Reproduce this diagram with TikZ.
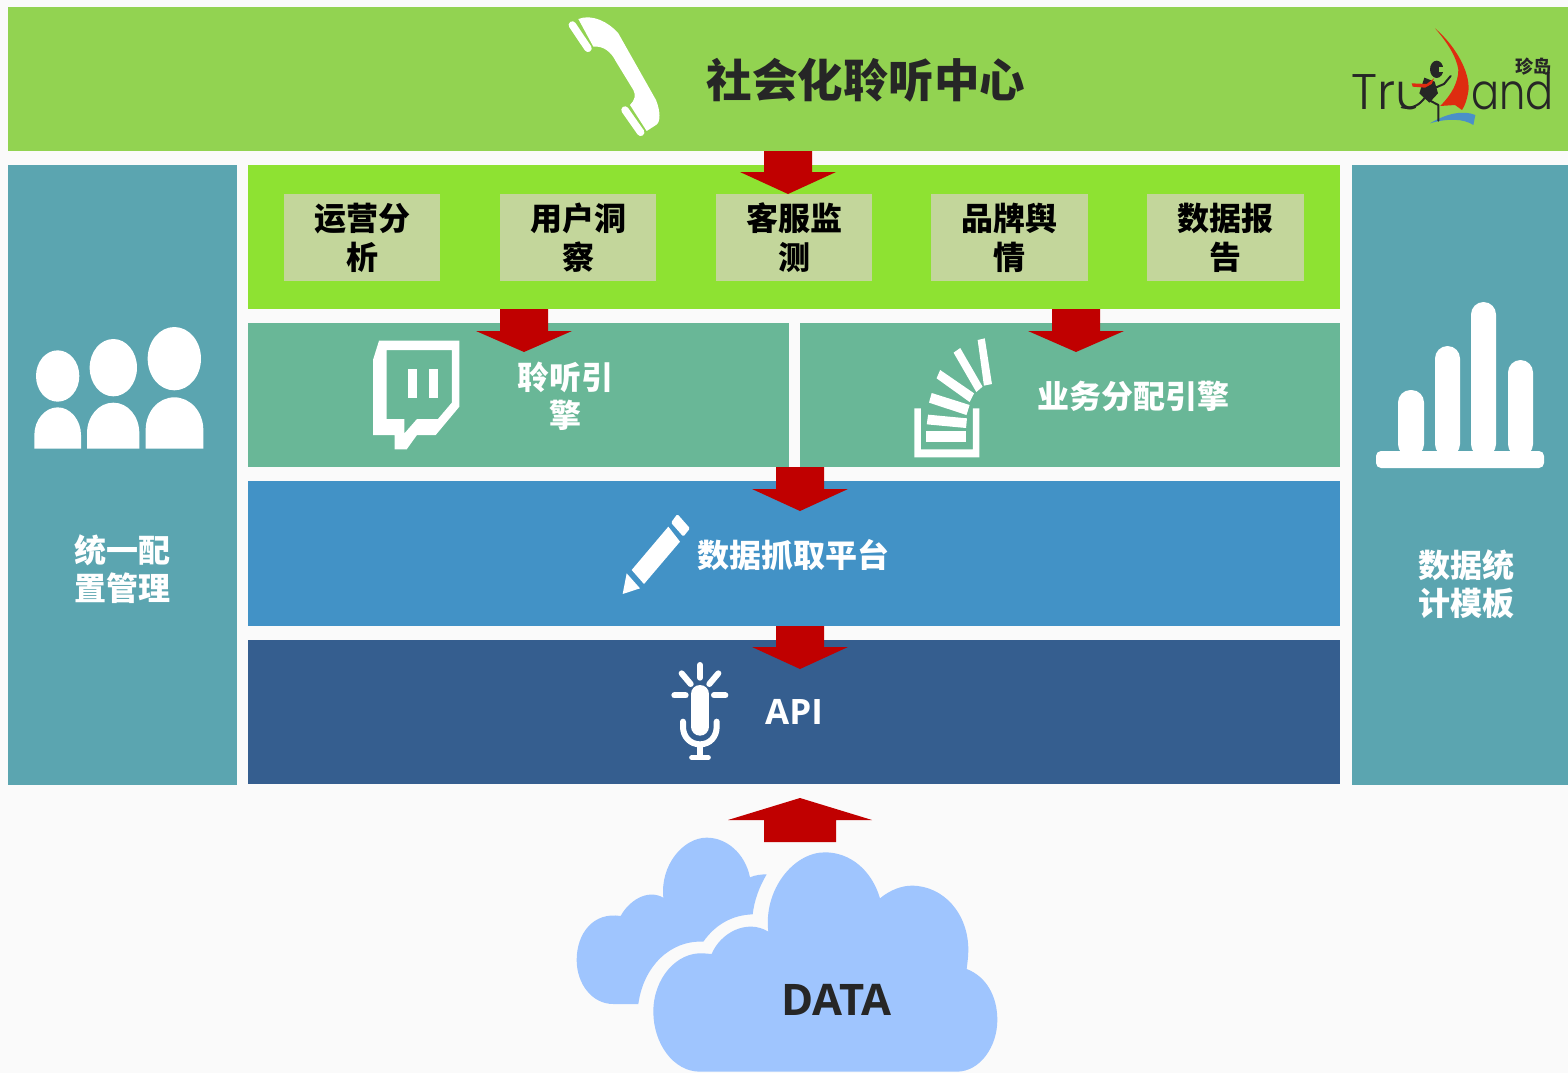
\documentclass[tikz,border=0pt]{standalone}
\usepackage{fontspec}
\setmainfont{Noto Sans CJK SC}
\newfontfamily\cjk{Noto Sans CJK SC}
\newfontfamily\latinbold{Open Sans}
\newfontfamily\logofont{Poppins Light}
\definecolor{pagebg}{HTML}{FAFAFA}
\definecolor{topbar}{HTML}{92D351}
\definecolor{limebar}{HTML}{8EE232}
\definecolor{subbox}{HTML}{C3D69B}
\definecolor{tealbar}{HTML}{69B797}
\definecolor{bluebar}{HTML}{4292C6}
\definecolor{navybar}{HTML}{355E8F}
\definecolor{sidebar}{HTML}{5BA5B0}
\definecolor{cloudblue}{HTML}{9FC5FE}
\definecolor{arrowred}{HTML}{C00000}
\definecolor{darktext}{HTML}{262626}
\definecolor{sailred}{HTML}{DE2C10}
\definecolor{waveblue}{HTML}{4A90C8}
\tikzset{
  panel/.style={anchor=north west,inner sep=0pt,outer sep=0pt,draw=none},
  subitem/.style={panel,anchor=center,fill=subbox,minimum width=156.5pt,minimum height=87pt,align=center,
     font=\fontsize{32}{38.8}\selectfont\bfseries,text=black},
  whitelabel/.style={inner sep=0pt,align=center,text=white,font=\fontsize{32}{38}\selectfont\bfseries},
  blockarrow/.style={fill=arrowred,draw=none},
  icon/.style={fill=white,draw=none},
  iconline/.style={draw=white,line cap=round,line width=5pt},
}
\newcommand{\blockdown}[4]{% start coordinate, shaft length, head half width, tip depth
  \fill[blockarrow] (#1) ++(-24,0) -- ++(48,0) -- ++(0,#2) -- ++(#3-24,0) -- ++(-#3,#4) -- ++(-#3,-#4) -- ++(#3-24,0) -- cycle;}
\begin{document}
\begin{tikzpicture}[x=1pt,y=-1pt]
\useasboundingbox (0,0) rectangle (1568,1073);
\fill[pagebg] (0,0) rectangle (1568,1073);
% panels
\node[panel,fill=topbar,minimum width=1560pt,minimum height=144pt] (top) at (8,7) {};
\node[panel,fill=sidebar,minimum width=229pt,minimum height=620pt] (left) at (8,165) {};
\node[panel,fill=sidebar,minimum width=216pt,minimum height=620pt] (right) at (1352,165) {};
\node[panel,fill=limebar,minimum width=1092pt,minimum height=144pt] (apps) at (248,165) {};
\node[panel,fill=tealbar,minimum width=541pt,minimum height=144pt] (listen) at (248,323) {};
\node[panel,fill=tealbar,minimum width=540pt,minimum height=144pt] (assign) at (800,323) {};
\node[panel,fill=bluebar,minimum width=1092pt,minimum height=145pt] (crawl) at (248,481) {};
\node[panel,fill=navybar,minimum width=1092pt,minimum height=144pt] (api) at (248,640) {};
% sub boxes
\node[subitem] (s1) at (362,237.5) {运营分\\析};
\node[subitem] (s2) at (578,237.5) {用户洞\\察};
\node[subitem] (s3) at (794,237.5) {客服监\\测};
\node[subitem] (s4) at (1009.5,237.5) {品牌舆\\情};
\node[subitem] (s5) at (1225.5,237.5) {数据报\\告};
% labels
\node[inner sep=0pt,text=darktext,font=\fontsize{45.5}{50}\selectfont\bfseries] (title) at (866,80) {社会化聆听中心};
\node[whitelabel] (l1) at (565,396) {聆听引\\擎};
\node[whitelabel] (l2) at (1133.5,396) {业务分配引擎};
\node[whitelabel] (l3) at (793.5,555) {数据抓取平台};
\node[whitelabel,font=\fontsize{35}{38}\latinbold\bfseries] (l4) at (794,712) {API};
\node[whitelabel] (l5) at (122,569) {统一配\\置管理};
\node[whitelabel] (l6) at (1466,584) {数据统\\计模板};
% cloud
\begin{scope}[shift={(560,790)},scale=1/3]
\fill[cloudblue] (235,642) -- (160,642) .. controls (95,642) and (50,580) .. (50,510)
  .. controls (50,430) and (100,365) .. (182,378) .. controls (205,335) and (260,295) .. (310,323)
  .. controls (300,225) and (370,143) .. (440,143) .. controls (500,143) and (555,190) .. (570,262)
  .. controls (585,255) and (605,253) .. (620,253) .. controls (598,290) and (583,330) .. (578,373)
  .. controls (515,375) and (465,405) .. (430,455) .. controls (330,450) and (250,530) .. (235,642) -- cycle;
\fill[cloudblue] (420,845) .. controls (340,845) and (280,760) .. (280,665)
  .. controls (280,565) and (350,485) .. (430,490) -- (455,492)
  .. controls (480,430) and (560,385) .. (625,425) .. controls (610,300) and (700,187) .. (795,187)
  .. controls (870,187) and (935,240) .. (960,325) .. controls (990,300) and (1025,287) .. (1055,287)
  .. controls (1150,287) and (1225,370) .. (1225,480) .. controls (1225,500) and (1222,520) .. (1220,537)
  .. controls (1280,560) and (1312,620) .. (1312,690) .. controls (1312,770) and (1260,845) .. (1190,845) -- cycle;
\end{scope}
\node[inner sep=0pt,text=darktext,font=\fontsize{43.5}{46}\latinbold\bfseries] (data) at (836.5,1000) {DATA};
% block arrows
\coordinate (a1) at (788,151);
\coordinate (a2) at (524,309);
\coordinate (a3) at (1076,309);
\coordinate (a4) at (800,467);
\coordinate (a5) at (800,626);
\coordinate (a6) at (800,842);
\blockdown{a1}{21}{48}{22}
\blockdown{a2}{22}{48}{21}
\blockdown{a3}{22}{48}{21}
\blockdown{a4}{22}{48}{22}
\blockdown{a5}{21}{48}{22}
\fill[blockarrow] (a6) ++(-36,0) -- ++(72,0) -- ++(0,-22) -- ++(36,0) -- ++(-72,-22) -- ++(-72,22) -- ++(36,0) -- cycle;
% phone
\begin{scope}[shift={(550,5)},scale=1/3]
\fill[icon] (85,42) .. controls (125,26) and (175,50) .. (205,85) -- (318,285)
  .. controls (332,320) and (332,352) .. (318,360) -- (290,378) -- (240,300)
  .. controls (255,285) and (258,270) .. (250,255) -- (198,170) .. controls (183,140) and (160,122) .. (130,125) -- cycle;
\draw[iconline,line width=7.5pt] (67,60) -- (114,130);
\draw[iconline,line width=7.5pt] (225,315) -- (272,382);
\end{scope}
% people
\begin{scope}[shift={(20,310)},scale=1/3]
\fill[icon] (113,198) ellipse [x radius=65,y radius=77];
\fill[icon] (280,173) ellipse [x radius=71,y radius=86];
\fill[icon] (463,146) ellipse [x radius=80,y radius=95];
\fill[icon] (43,416) -- (43,375) .. controls (43,330) and (75,292) .. (113,292) .. controls (151,292) and (183,330) .. (183,375) -- (183,416) -- cycle;
\fill[icon] (201,416) -- (201,370) .. controls (201,320) and (235,278) .. (280,278) .. controls (325,278) and (358,320) .. (358,370) -- (358,416) -- cycle;
\fill[icon] (377,416) -- (377,360) .. controls (377,305) and (415,262) .. (463,262) .. controls (511,262) and (550,305) .. (550,360) -- (550,416) -- cycle;
\end{scope}
% bars
\begin{scope}[shift={(1360,290)},scale=1/3]
\fill[icon,rounded corners=5pt] (48,483) rectangle (552,534);
\fill[icon,rounded corners=12.5pt] (114,500) -- (114,300) -- (192,300) -- (192,500) -- cycle;
\fill[icon,rounded corners=12.5pt] (225,500) -- (225,168) -- (300,168) -- (300,500) -- cycle;
\fill[icon,rounded corners=12.5pt] (333,500) -- (333,36) -- (408,36) -- (408,500) -- cycle;
\fill[icon,rounded corners=12.5pt] (444,500) -- (444,210) -- (519,210) -- (519,500) -- cycle;
\end{scope}
% chat icon and stack icon
\begin{scope}[shift={(350,320)},xscale=1/2.24,yscale=1/3]
\fill[icon,even odd rule] (65,62) -- (245,62) -- (245,260) -- (192,345) -- (150,345) -- (127,388) -- (100,388) -- (100,345) -- (52,345) -- (52,118) -- cycle
  (82,90) -- (228,90) -- (228,248) -- (197,297) -- (150,297) -- (122,340) -- (122,297) -- (82,297) -- cycle;
\fill[icon] (130,147) rectangle (150,233);
\fill[icon] (178,147) rectangle (197,233);
\fill[icon] (1264,265) -- (1279,265) -- (1279,388) -- (1395,388) -- (1395,265) -- (1410,265) -- (1410,412) -- (1264,412) -- cycle;
\fill[icon] (1290,333) rectangle (1380,365);
\fill[icon] (1295,284) -- (1382,295) -- (1380,324) -- (1292,313) -- cycle;
\fill[icon] (1303,219) -- (1388,255) -- (1381,285) -- (1297,248) -- cycle;
\fill[icon] (1322,150) -- (1398,220) -- (1388,246) -- (1314,175) -- cycle;
\fill[icon] (1367,84) -- (1417,200) -- (1403,216) -- (1352,98) -- cycle;
\fill[icon] (1422,55) -- (1438,192) -- (1420,197) -- (1406,60) -- cycle;
\end{scope}
% pencil and microphone
\begin{scope}[shift={(600,500)},scale=1/3]
\fill[icon] (205,80) -- (240,125) -- (132,252) -- (95,210) -- cycle;
\fill[icon,rounded corners=1.5pt] (232,42) -- (270,85) -- (250,110) -- (213,68) -- cycle;
\fill[icon] (80,220) -- (120,265) -- (68,282) -- cycle;
\draw[iconline,line width=6pt] (300,495) -- (300,533);
\draw[iconline,line width=6pt] (245,520) -- (272,552);
\draw[iconline,line width=6pt] (355,520) -- (328,552);
\draw[iconline,line width=6pt] (223,586) -- (257,586);
\draw[iconline,line width=6pt] (342,586) -- (376,586);
\draw[iconline,line width=18pt] (300,582) -- (300,680);
\draw[iconline,line width=6pt] (249,665) -- (249,680) .. controls (249,710) and (270,733) .. (300,733) .. controls (330,733) and (350,710) .. (350,680) -- (350,665);
\draw[white,line width=6pt] (300,733) -- (300,772);
\draw[iconline,line width=5pt] (275,773) -- (325,773);
\end{scope}
% logo
\node[anchor=base west,inner sep=0pt,text=darktext,font=\fontsize{50}{54}\logofont] (logotru) at (1351,109) {Tru};
\node[anchor=base west,inner sep=0pt,text=darktext,font=\fontsize{50}{54}\logofont,xscale=0.83] (logoand) at (1471,109) {and};
\node[inner sep=0pt,text=darktext,font=\fontsize{18}{20}\selectfont\bfseries] (logocn) at (1533,67) {珍岛};
\begin{scope}[shift={(1330,10)},scale=1/3]
\fill[topbar] (258,180) rectangle (300,300);
\fill[sailred] (315,55) .. controls (385,115) and (425,200) .. (414,250) .. controls (410,272) and (404,288) .. (396,300)
  -- (375,285) -- (330,288) .. controls (365,255) and (385,215) .. (385,180) .. controls (380,140) and (350,95) .. (315,55) -- cycle;
\fill[waveblue] (300,340) .. controls (350,310) and (400,300) .. (436,315) -- (430,345) .. controls (400,325) and (350,325) .. (300,340) -- cycle;
\fill[darktext] (320,178) ellipse [x radius=20,y radius=26];
\fill[topbar] (326,172) rectangle (345,186);
\fill[darktext] (283,203) -- (314,215) -- (324,250) -- (298,278) -- (268,250) -- cycle;
\draw[darktext,line width=2pt,line cap=round,line join=round] (300,240) -- (342,222) -- (362,198);
\draw[darktext,line width=2pt,line cap=round,line join=round] (296,270) -- (325,285) -- (325,332);
\draw[darktext,line width=2pt,line cap=round] (285,262) .. controls (270,285) and (245,298) .. (215,292);
\fill[sailred] (245,220) -- (290,222) -- (312,205) -- (305,222) -- (285,233) -- (248,230) -- cycle;
\end{scope}
\end{tikzpicture}
\end{document}
